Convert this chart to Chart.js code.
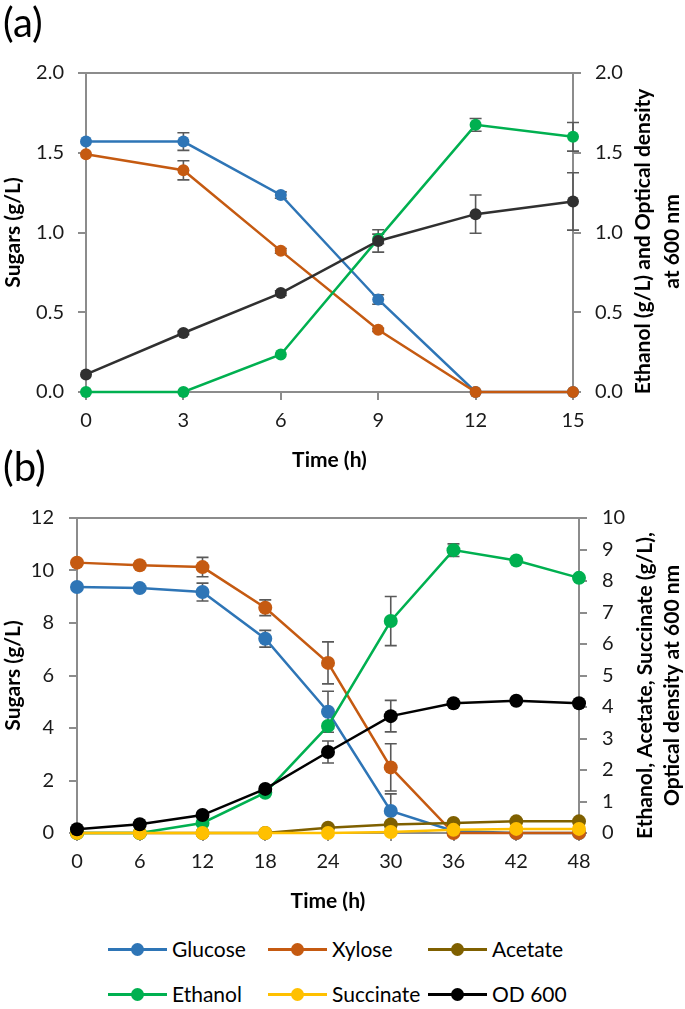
<!DOCTYPE html>
<html>
<head>
<meta charset="utf-8">
<script src="https://cdn.jsdelivr.net/npm/chart.js@4.4.0/dist/chart.umd.min.js"></script>
<style>
  body { margin: 0; background: #fff; font-family: Lato, sans-serif; }
  #page { position: relative; width: 685px; height: 1009px; overflow: hidden; background: #fff; }
  canvas { position: absolute; left: 0; }
  .panel { position: absolute; left: 3px; font-size: 40px; line-height: 1; color: #000; }
  .leg { position: absolute; height: 20px; transform: translateY(-50%); }
  .leg .ln { position: absolute; left: 0; top: 8px; width: 59px; height: 3px; }
  .leg .dot { position: absolute; left: 23px; top: 3px; width: 13px; height: 13px; border-radius: 50%; }
  .leg .txt { position: absolute; left: 64px; top: -4px; font-size: 21px; line-height: 26px; white-space: nowrap; color: #000; }
</style>
</head>
<body>
<div id="page">
  <canvas id="chartA" width="685" height="480" style="top:0"></canvas>
  <canvas id="chartB" width="685" height="440" style="top:480px"></canvas>
  <div class="panel" style="top:2px">(a)</div>
  <div class="panel" style="top:446px">(b)</div>
  <div id="legend"></div>
</div>
<script>
// ----------------------------
// DATA - panel (a)
// ----------------------------
const timeA = [0, 3, 6, 9, 12, 15];
const glucoseA = [1.57, 1.57, 1.235, 0.58, 0, 0];
const xyloseA = [1.49, 1.39, 0.885, 0.39, 0, 0];
const ethanolA = [0, 0, 0.235, 0.96, 1.675, 1.60];
const odA = [0.11, 0.37, 0.62, 0.947, 1.115, 1.195];
const glucoseErrA = [0, 0.055, 0.02, 0.03, 0, 0];
const xyloseErrA = [0, 0.06, 0.015, 0.01, 0, 0];
const ethanolErrA = [0, 0, 0, 0.03, 0.04, 0.09];
const odErrA = [0, 0.01, 0.015, 0.07, 0.12, 0.18];

// ----------------------------
// DATA - panel (b)
// ----------------------------
const timeB = [0, 6, 12, 18, 24, 30, 36, 42, 48];
const glucoseB = [9.37, 9.33, 9.18, 7.40, 4.62, 0.84, 0.08, 0, 0];
const xyloseB = [10.3, 10.2, 10.13, 8.58, 6.48, 2.5, 0, 0, 0];
const acetateB = [0, 0, 0, 0, 0.17, 0.27, 0.32, 0.37, 0.37];
const ethanolB = [0, 0, 0.32, 1.28, 3.4, 6.73, 8.98, 8.65, 8.1];
const succinateB = [0, 0, 0, 0, 0, 0.03, 0.1, 0.13, 0.13];
const odB = [0.12, 0.28, 0.57, 1.4, 2.57, 3.71, 4.12, 4.2, 4.12];
const glucoseErrB = [0, 0, 0.34, 0.32, 0.78, 0.65, 0, 0, 0];
const xyloseErrB = [0, 0, 0.37, 0.3, 0.8, 0.9, 0, 0, 0];
const ethanolErrB = [0, 0, 0, 0, 0, 0.78, 0.2, 0, 0];
const odErrB = [0, 0, 0, 0, 0.35, 0.5, 0, 0, 0];

// ----------------------------
// LEGEND
// ----------------------------
const legendLabels = ["Glucose", "Xylose", "Acetate", "Ethanol", "Succinate", "OD 600"];
const legendColors = ["#2E75B6", "#C55A11", "#7F6000", "#00B050", "#FFC000", "#000000"];

const axisGray = "#8c8c8c";
const tickColor = "#1a1a1a";
const errColor = "#595959";

Chart.defaults.font.family = "Lato, sans-serif";
Chart.defaults.color = tickColor;

function pts(times, values) {
    return times.map((t, i) => ({ x: t, y: values[i] }));
}

// error bars drawn through the chart's own scales
const errorBarPlugin = {
    id: "errorBars",
    beforeDatasetsDraw(chart) {
        const ctx = chart.ctx;
        ctx.save();
        ctx.strokeStyle = errColor;
        ctx.lineWidth = 1.6;
        chart.data.datasets.forEach((ds, i) => {
            if (!ds.errorBars) return;
            const meta = chart.getDatasetMeta(i);
            const xs = chart.scales[meta.xAxisID];
            const ys = chart.scales[meta.yAxisID];
            ds.data.forEach((p, j) => {
                const e = ds.errorBars[j];
                if (!e) return;
                const x = xs.getPixelForValue(p.x);
                const yTop = ys.getPixelForValue(p.y + e);
                const yBot = ys.getPixelForValue(p.y - e);
                ctx.beginPath();
                ctx.moveTo(x, yTop); ctx.lineTo(x, yBot);
                ctx.moveTo(x - 6, yTop); ctx.lineTo(x + 6, yTop);
                ctx.moveTo(x - 6, yBot); ctx.lineTo(x + 6, yBot);
                ctx.stroke();
            });
        });
        ctx.restore();
    }
};

// top border + right axis title (reads bottom to top)
const framePlugin = {
    id: "frame",
    afterDraw(chart, args, opts) {
        const ctx = chart.ctx;
        const a = chart.chartArea;
        ctx.save();
        ctx.strokeStyle = axisGray;
        ctx.lineWidth = 2;
        ctx.beginPath();
        ctx.moveTo(a.left - 1, a.top);
        ctx.lineTo(a.right + 1, a.top);
        ctx.stroke();

        ctx.font = "bold 21px Lato, sans-serif";
        ctx.fillStyle = "#000";
        ctx.textAlign = "center";
        ctx.textBaseline = "middle";
        ctx.translate(opts.x, (a.top + a.bottom) / 2 + opts.dy);
        ctx.rotate(-Math.PI / 2);
        opts.lines.forEach((t, i) => ctx.fillText(t, 0, i * opts.gap));
        ctx.restore();
    }
};

function series(label, data, color, errs, axis, radius, order) {
    return {
        label: label,
        data: data,
        borderColor: color,
        backgroundColor: color,
        pointBackgroundColor: color,
        pointBorderColor: color,
        borderWidth: 2.5,
        pointRadius: radius,
        pointBorderWidth: 0,
        tension: 0,
        yAxisID: axis,
        errorBars: errs,
        order: order,
        clip: false
    };
}

function axisBase(extra) {
    return Object.assign({
        grid: { drawOnChartArea: false, drawTicks: true, tickLength: 8, color: axisGray, lineWidth: 2 },
        border: { display: true, color: axisGray, width: 2 }
    }, extra);
}

// ----------------------------
// PANEL (a)
// ----------------------------
new Chart(document.getElementById("chartA"), {
    type: "line",
    data: {
        datasets: [
            series("Glucose", pts(timeA, glucoseA), legendColors[0], glucoseErrA, "y", 6, 0),
            series("Xylose", pts(timeA, xyloseA), legendColors[1], xyloseErrA, "y", 6, -1),
            series("Ethanol", pts(timeA, ethanolA), legendColors[3], ethanolErrA, "y2", 6, -2),
            series("OD 600", pts(timeA, odA), "#303030", odErrA, "y2", 6, -3)
        ]
    },
    options: {
        responsive: false,
        animation: false,
        layout: { padding: { top: 73, left: 0, right: 0, bottom: 0 } },
        plugins: {
            legend: { display: false },
            tooltip: { enabled: false },
            frame: { x: 643, dy: 9, gap: 29, lines: ["Ethanol (g/L) and Optical density", "at 600 nm"] }
        },
        scales: {
            x: axisBase({
                type: "linear", min: 0, max: 15,
                ticks: { stepSize: 3, padding: 9, font: { size: 20 } },
                title: { display: true, text: "Time (h)", color: "#000", font: { size: 21, weight: "bold" }, padding: { top: 0, bottom: 7 } },
                afterFit: s => { s.height = 88; }
            }),
            y: axisBase({
                position: "left", min: 0, max: 2,
                ticks: { stepSize: 0.5, padding: 14, font: { size: 20 }, callback: v => v.toFixed(1) },
                title: { display: true, text: "Sugars (g/L)", color: "#000", font: { size: 21, weight: "bold" }, padding: { top: 1, bottom: 0 } },
                afterFit: s => { s.width = 86; }
            }),
            y2: axisBase({
                position: "right", min: 0, max: 2,
                ticks: { stepSize: 0.5, padding: 14, font: { size: 20 }, callback: v => v.toFixed(1) },
                afterFit: s => { s.width = 112; }
            })
        }
    },
    plugins: [errorBarPlugin, framePlugin]
});

// ----------------------------
// PANEL (b)
// ----------------------------
new Chart(document.getElementById("chartB"), {
    type: "line",
    data: {
        datasets: [
            series("Glucose", pts(timeB, glucoseB), legendColors[0], glucoseErrB, "y", 7, 0),
            series("Xylose", pts(timeB, xyloseB), legendColors[1], xyloseErrB, "y", 7, -1),
            series("Acetate", pts(timeB, acetateB), legendColors[2], null, "y2", 7, -2),
            series("Ethanol", pts(timeB, ethanolB), legendColors[3], ethanolErrB, "y2", 7, -3),
            series("Succinate", pts(timeB, succinateB), legendColors[4], null, "y2", 7, -4),
            series("OD 600", pts(timeB, odB), legendColors[5], odErrB, "y2", 7, -5)
        ]
    },
    options: {
        responsive: false,
        animation: false,
        layout: { padding: { top: 38, left: 0, right: 0, bottom: 0 } },
        plugins: {
            legend: { display: false },
            tooltip: { enabled: false },
            frame: { x: 645, dy: 10, gap: 27, lines: ["Ethanol, Acetate, Succinate (g/L),", "Optical density at 600 nm"] }
        },
        scales: {
            x: axisBase({
                type: "linear", min: 0, max: 48,
                ticks: { stepSize: 6, padding: 9, font: { size: 20 } },
                title: { display: true, text: "Time (h)", color: "#000", font: { size: 21, weight: "bold" }, padding: { top: 0, bottom: 6 } },
                afterFit: s => { s.height = 87; }
            }),
            y: axisBase({
                position: "left", min: 0, max: 12,
                ticks: { stepSize: 2, padding: 15, font: { size: 20 } },
                title: { display: true, text: "Sugars (g/L)", color: "#000", font: { size: 21, weight: "bold" }, padding: { top: 1, bottom: 0 } },
                afterFit: s => { s.width = 77; }
            }),
            y2: axisBase({
                position: "right", min: 0, max: 10,
                ticks: { stepSize: 1, padding: 15, font: { size: 20 } },
                afterFit: s => { s.width = 106; }
            })
        }
    },
    plugins: [errorBarPlugin, framePlugin]
});

// ----------------------------
// HTML LEGEND (3 x 2)
// ----------------------------
const legendCols = [108, 268, 428];
const legendRows = [950, 995];
const legendBox = document.getElementById("legend");
legendLabels.forEach((label, i) => {
    const item = document.createElement("div");
    item.className = "leg";
    item.style.left = legendCols[i % 3] + "px";
    item.style.top = legendRows[Math.floor(i / 3)] + "px";
    item.innerHTML =
        `<span class="ln" style="background:${legendColors[i]}"></span>` +
        `<span class="dot" style="background:${legendColors[i]}"></span>` +
        `<span class="txt">${label}</span>`;
    legendBox.appendChild(item);
});
</script>
</body>
</html>
